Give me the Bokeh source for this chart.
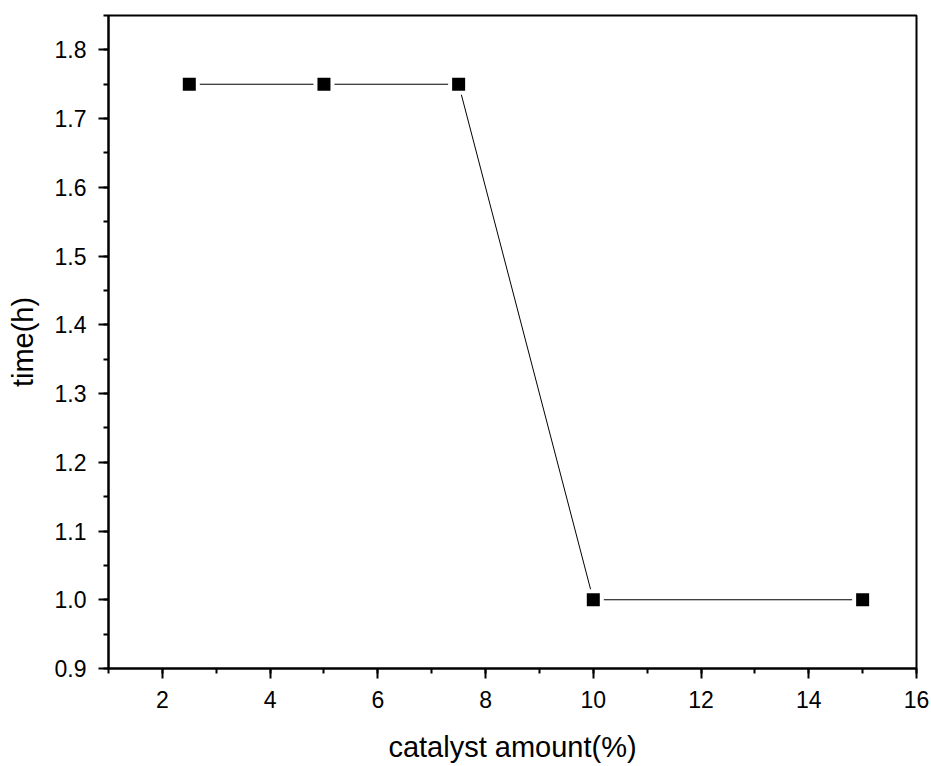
from bokeh.plotting import figure
from bokeh.models import SingleIntervalTicker, PrintfTickFormatter, Range1d
from bokeh.embed import file_html
from bokeh.resources import INLINE

catalyst_amount = [2.5, 5, 7.5, 10, 15]
time_h = [1.75, 1.75, 1.75, 1.0, 1.0]

p = figure(width=931, height=766, output_backend="svg", toolbar_location=None,
           x_range=Range1d(1, 16), y_range=Range1d(0.9, 1.85),
           min_border_left=108, min_border_right=15, min_border_top=15, min_border_bottom=98)

p.line(catalyst_amount, time_h, line_color="black", line_width=1)
p.scatter(catalyst_amount, time_h, marker="square", size=21, fill_color="white", line_color=None)
p.scatter(catalyst_amount, time_h, marker="square", size=13, fill_color="black", line_color=None)

p.xgrid.visible = False
p.ygrid.visible = False
p.outline_line_color = "black"
p.outline_line_width = 2
p.outline_line_alpha = 1

p.xaxis.ticker = SingleIntervalTicker(interval=2, num_minor_ticks=2)
p.yaxis.ticker = SingleIntervalTicker(interval=0.1, num_minor_ticks=2)
p.yaxis.formatter = PrintfTickFormatter(format="%.1f")

for ax in (p.xaxis[0], p.yaxis[0]):
    ax.axis_line_width = 2
    ax.axis_line_color = "black"
    ax.major_tick_line_width = 2
    ax.minor_tick_line_width = 2
    ax.major_tick_line_color = "black"
    ax.minor_tick_line_color = "black"
    ax.major_tick_out = 10
    ax.major_tick_in = 0
    ax.minor_tick_out = 5
    ax.minor_tick_in = 0
    ax.major_label_text_font = "Liberation Sans"
    ax.major_label_text_font_size = "23px"
    ax.major_label_text_color = "black"
    ax.axis_label_text_font = "Liberation Sans"
    ax.axis_label_text_font_size = "29px"
    ax.axis_label_text_font_style = "normal"
    ax.axis_label_text_color = "black"

p.xaxis.axis_label = "catalyst amount(%)"
p.yaxis.axis_label = "time(h)"
p.xaxis.major_label_standoff = 12
p.yaxis.major_label_standoff = 12
p.xaxis.axis_label_standoff = 20
p.yaxis.axis_label_standoff = 13

open("out.html", "w").write(file_html(p, INLINE))
